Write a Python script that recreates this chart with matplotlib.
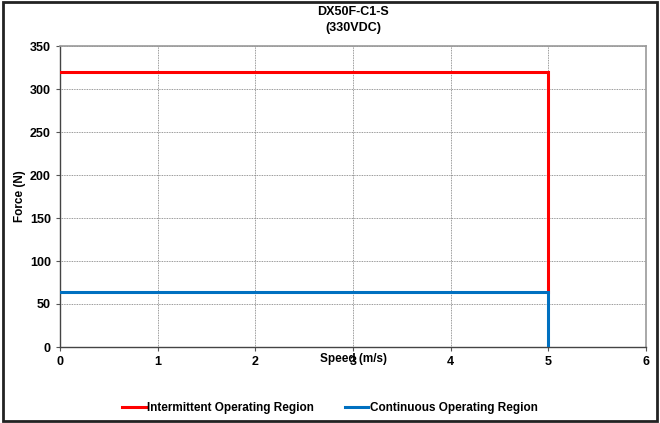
import matplotlib
matplotlib.use("Agg")
import matplotlib.pyplot as plt
from matplotlib.patches import Rectangle

plt.rcParams['font.family'] = ['Liberation Sans', 'DejaVu Sans']
plt.rcParams['font.weight'] = 'bold'

title = "DX50F-C1-S\n(330VDC)"
intermittent_speed = [0, 5, 5]
intermittent_force = [320, 320, 64]
continuous_speed = [0, 5, 5]
continuous_force = [64, 64, 0]
x_ticks = [0, 1, 2, 3, 4, 5, 6]
y_ticks = [0, 50, 100, 150, 200, 250, 300, 350]

fig = plt.figure(figsize=(6.6, 4.23), dpi=100)
ax = fig.add_axes([60/660, 1-347/423, 586/660, 301/423])

ax.plot(intermittent_speed, intermittent_force, color='#ff0000', lw=2.2,
        label='Intermittent Operating Region', solid_joinstyle='miter', zorder=3)
ax.plot(continuous_speed, continuous_force, color='#0070c0', lw=2.2,
        label='Continuous Operating Region', solid_joinstyle='miter', zorder=3)

ax.set_xlim(0, 6)
ax.set_ylim(0, 350)
ax.set_xticks(x_ticks)
ax.set_yticks(y_ticks)
ax.tick_params(axis='both', labelsize=9, length=3, color='#555555', width=0.8)
for lab in ax.get_xticklabels() + ax.get_yticklabels():
    lab.set_fontweight('bold')
ax.grid(True, color='#777777', linestyle=(0, (1, 1)), linewidth=0.6)
for s in ['left', 'bottom']:
    ax.spines[s].set_color('#444444')
    ax.spines[s].set_linewidth(1.0)
for s in ['top', 'right']:
    ax.spines[s].set_color('#999999')
    ax.spines[s].set_linewidth(1.2)

ax.set_xlabel('Speed (m/s)', fontsize=8.5, fontweight='bold', labelpad=-11)
ax.set_ylabel('Force (N)', fontsize=8.5, fontweight='bold', labelpad=3)
ax.set_title(title, fontsize=9, fontweight='bold', pad=11, linespacing=1.45)

leg = fig.legend(loc='center', bbox_to_anchor=(0.5, 1-408/423), ncol=2, frameon=False,
                 fontsize=8.5, handlelength=2.0, handletextpad=0.15, columnspacing=2.6)
for t in leg.get_texts():
    t.set_fontweight('bold')

fig.patches.append(Rectangle((0.005, 0.004), 0.99, 0.992, transform=fig.transFigure,
                             fill=False, edgecolor='#222222', linewidth=2.0))

fig.savefig('out.png', dpi=100)
